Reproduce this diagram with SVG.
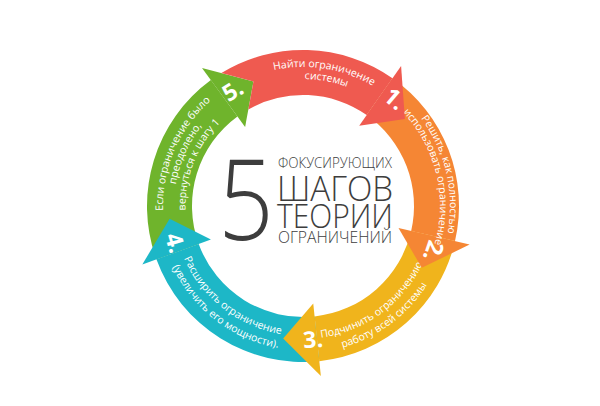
<svg xmlns="http://www.w3.org/2000/svg" width="600" height="406" viewBox="0 0 600 406">
<style>
.arc{font-family:"Open Sans","Liberation Sans",sans-serif;font-size:10.5px;fill:#fff}
.num{font-family:"Open Sans","Liberation Sans",sans-serif;font-size:23px;font-weight:700;fill:#fff;text-anchor:middle}
.ctr{font-family:"Open Sans","Liberation Sans",sans-serif;font-weight:300;fill:#3d3d3d}
.red{fill:#EF5A50}.orange{fill:#F58634}.yellow{fill:#F0B41C}.teal{fill:#1DB7C7}.green{fill:#6FB42C}
</style>
<defs>
<path id="cw139" d="M0,139 A139,139 0 1,1 0,-139 A139,139 0 1,1 0,139"/>
<path id="cw127" d="M0,127 A127,127 0 1,1 0,-127 A127,127 0 1,1 0,127"/>
<path id="cw147" d="M0,147 A147,147 0 1,1 0,-147 A147,147 0 1,1 0,147"/>
<path id="cw137" d="M0,137 A137,137 0 1,1 0,-137 A137,137 0 1,1 0,137"/>
<path id="cw140" d="M0,140 A140,140 0 1,1 0,-140 A140,140 0 1,1 0,140"/>
<path id="cw129" d="M0,129 A129,129 0 1,1 0,-129 A129,129 0 1,1 0,129"/>
<path id="cw117" d="M0,117.5 A117.5,117.5 0 1,1 0,-117.5 A117.5,117.5 0 1,1 0,117.5"/>
<path id="ccw133" d="M0,133 A133,133 0 1,0 0,-133 A133,133 0 1,0 0,133"/>
<path id="ccw147" d="M0,147 A147,147 0 1,0 0,-147 A147,147 0 1,0 0,147"/>
<path id="ccw130" d="M0,130 A130,130 0 1,0 0,-130 A130,130 0 1,0 0,130"/>
<path id="ccw144" d="M0,144 A144,144 0 1,0 0,-144 A144,144 0 1,0 0,144"/>
</defs>
<rect width="600" height="406" fill="#fff"/>
<g id="ring" transform="translate(303,206)">
<g id="node-5" class="green">
<path d="M-146.59,53.35 A156,156 0 0,1 -92.13,-125.89 L-65.56,-89.58 A111,111 0 0,0 -104.31,37.96 Z"/>
<polygon points="-101.0,-138.0 -49.54,-124.50 -57.88,-79.09"/>
<text class="arc" transform="rotate(293.4)"><textPath href="#cw140" startOffset="50%" text-anchor="middle">Если ограничение было</textPath></text>
<text class="arc" transform="rotate(294)"><textPath href="#cw129" startOffset="50%" text-anchor="middle">преодолено,</textPath></text>
<text class="arc" transform="rotate(291.5)"><textPath href="#cw117" startOffset="50%" text-anchor="middle">вернуться к шагу 1</textPath></text>
<text class="num" transform="rotate(328.7) translate(0,-135)" dy="8">5.</text>
</g>
<g id="node-4" class="teal">
<path d="M16.30,155.14 A156,156 0 0,1 -146.59,53.35 L-104.31,37.96 A111,111 0 0,0 11.60,110.39 Z"/>
<polygon points="-160.69,58.48 -133.38,12.84 -92.09,33.52"/>
<text class="arc" transform="rotate(218)"><textPath href="#ccw130" startOffset="50%" text-anchor="middle">Расширить ограничение</textPath></text>
<text class="arc" transform="rotate(217.5)"><textPath href="#ccw144" startOffset="50%" text-anchor="middle">(увеличить его мощности).</textPath></text>
<text class="num" transform="rotate(253.9) translate(0,-133) rotate(180)" dy="8">4.</text>
</g>
<g id="node-3" class="yellow">
<path d="M152.01,35.10 A156,156 0 0,1 16.30,155.14 L11.60,110.39 A111,111 0 0,0 108.16,24.98 Z"/>
<polygon points="17.87,170.06 -19.81,132.53 10.24,97.46"/>
<text class="arc" transform="rotate(144)"><textPath href="#ccw133" startOffset="50%" text-anchor="middle">Подчинить ограничению</textPath></text>
<text class="arc" transform="rotate(143.5)"><textPath href="#ccw147" startOffset="50%" text-anchor="middle">работу всей системы</textPath></text>
<text class="num" transform="rotate(175.7) translate(0,-134) rotate(180)" dy="8">3.</text>
</g>
<g id="node-2" class="orange">
<path d="M89.48,-127.80 A156,156 0 0,1 152.01,35.10 L108.16,24.98 A111,111 0 0,0 63.67,-90.93 Z"/>
<polygon points="166.62,38.47 118.86,61.87 95.49,22.05"/>
<text class="arc" font-size="10" transform="rotate(77)"><textPath href="#cw147" startOffset="50%" text-anchor="middle">Решить, как полностью</textPath></text>
<text class="arc" font-size="10" transform="rotate(76.5)"><textPath href="#cw137" startOffset="50%" text-anchor="middle">использовать ограничение</textPath></text>
<text class="num" transform="rotate(109) translate(0,-138)" dy="8">2.</text>
</g>
<g id="node-1" class="red">
<path d="M-81.65,-132.92 A156,156 0 0,1 89.48,-127.80 L63.67,-90.93 A111,111 0 0,0 -54.66,-96.61 L-49.54,-124.50 Z"/>
<polygon points="98.09,-140.08 101.89,-87.02 56.21,-80.28"/>
<text class="arc" transform="rotate(9)"><textPath href="#cw139" startOffset="50%" text-anchor="middle">Найти ограничение</textPath></text>
<text class="arc" transform="rotate(10.5)"><textPath href="#cw127" startOffset="50%" text-anchor="middle">системы</textPath></text>
<text class="num" transform="rotate(40.5) translate(0,-141)" dy="8">1.</text>
</g>
</g>
<g id="title">
<text class="ctr" font-size="113" text-anchor="middle" transform="translate(246,240) scale(0.86,1)">5</text>
<text class="ctr" font-size="15" x="278" y="168" textLength="114" lengthAdjust="spacingAndGlyphs">ФОКУСИРУЮЩИХ</text>
<text class="ctr" font-size="34" x="277" y="201" textLength="116" lengthAdjust="spacingAndGlyphs">ШАГОВ</text>
<text class="ctr" font-size="33" x="277" y="228" textLength="116" lengthAdjust="spacingAndGlyphs">ТЕОРИИ</text>
<text class="ctr" font-size="16" x="278" y="243" textLength="114" lengthAdjust="spacingAndGlyphs">ОГРАНИЧЕНИЙ</text>
</g>
</svg>
